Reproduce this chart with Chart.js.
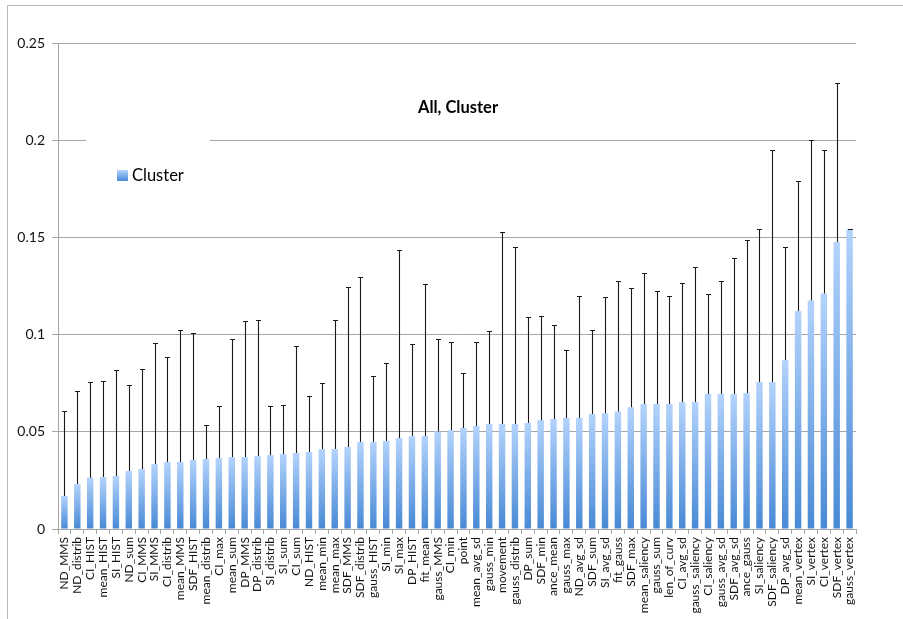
<!DOCTYPE html>
<html>
<head>
<meta charset="utf-8">
<script src="https://cdn.jsdelivr.net/npm/chart.js@4/dist/chart.umd.min.js"></script>
<style>
  html, body { margin: 0; padding: 0; background: #fff; }
  #wrap { position: relative; width: 903px; height: 619px; overflow: hidden; }
  #frame { position: absolute; left: 7px; top: 5px; width: 900px; height: 620px;
           border-left: 1px solid #b8b8b8; border-top: 1px solid #b8b8b8; pointer-events: none; }
  canvas { position: absolute; left: 0; top: 0; }
</style>
</head>
<body>
<div id="wrap">
  <canvas id="c" width="903" height="619"></canvas>
  <div id="frame"></div>
</div>
<script>
const categories = [
  "ND_MMS","ND_distrib","CI_HIST","mean_HIST","SI_HIST","ND_sum","CI_MMS","SI_MMS","CI_distrib","mean_MMS",
  "SDF_HIST","mean_distrib","CI_max","mean_sum","DP_MMS","DP_distrib","SI_distrib","SI_sum","CI_sum","ND_HIST",
  "mean_min","mean_max","SDF_MMS","SDF_distrib","gauss_HIST","SI_min","SI_max","DP_HIST","fit_mean","gauss_MMS",
  "CI_min","point","mean_avg_sd","gauss_min","movement","gauss_distrib","DP_sum","SDF_min","ance_mean","gauss_max",
  "ND_avg_sd","SDF_sum","SI_avg_sd","fit_gauss","SDF_max","mean_saliency","gauss_sum","len_of_curv","CI_avg_sd","gauss_saliency",
  "CI_saliency","gauss_avg_sd","SDF_avg_sd","ance_gauss","SI_saliency","SDF_saliency","DP_avg_sd","mean_vertex","SI_vertex","CI_vertex",
  "SDF_vertex","gauss_vertex"
];
const clusterValues = [
  0.0170,0.0231,0.0264,0.0267,0.0273,0.0298,0.0309,0.0334,0.0345,0.0345,
  0.0355,0.0360,0.0365,0.0370,0.0370,0.0375,0.0380,0.0386,0.0391,0.0396,
  0.0411,0.0411,0.0422,0.0448,0.0448,0.0453,0.0468,0.0478,0.0478,0.0502,
  0.0509,0.0520,0.0530,0.0540,0.0540,0.0540,0.0545,0.0560,0.0566,0.0571,
  0.0571,0.0592,0.0595,0.0605,0.0626,0.0643,0.0643,0.0643,0.0653,0.0653,
  0.0694,0.0694,0.0694,0.0700,0.0756,0.0756,0.0868,0.1121,0.1176,0.1212,
  0.1476,0.1542
];
const clusterErrors = [
  0.0437,0.0477,0.0494,0.0493,0.0547,0.0444,0.0516,0.0624,0.0541,0.0677,
  0.0652,0.0173,0.0266,0.0607,0.0700,0.0700,0.0251,0.0250,0.0550,0.0290,
  0.0340,0.0666,0.0823,0.0848,0.0337,0.0403,0.0966,0.0472,0.0781,0.0474,
  0.0451,0.0284,0.0432,0.0477,0.0986,0.0911,0.0545,0.0536,0.0482,0.0348,
  0.0629,0.0430,0.0598,0.0669,0.0612,0.0674,0.0583,0.0557,0.0611,0.0693,
  0.0515,0.0580,0.0702,0.0787,0.0787,0.1194,0.0583,0.0669,0.0827,0.0738,
  0.0817,0.0003
];
const yTicks = [0, 0.05, 0.1, 0.15, 0.2, 0.25];
const chartTitle = "All, Cluster";
const seriesName = "Cluster";

const FONT = "Lato, 'Open Sans', sans-serif";
const TOP_COLOR = "#b3d3fc";
const BOTTOM_COLOR = "#4889d5";

function barGradient(ctx) {
  const chart = ctx.chart;
  const ys = chart.scales && chart.scales.y;
  if (!ys || !chart.chartArea || ctx.parsed === undefined) return BOTTOM_COLOR;
  const top = ys.getPixelForValue(ctx.parsed.y);
  const base = ys.getPixelForValue(0);
  const g = chart.ctx.createLinearGradient(0, top, 0, base);
  g.addColorStop(0, TOP_COLOR);
  g.addColorStop(1, BOTTOM_COLOR);
  return g;
}

const errorBars = {
  id: 'errorBars',
  afterDatasetsDraw(chart) {
    const ctx = chart.ctx;
    const ys = chart.scales.y;
    const meta = chart.getDatasetMeta(0);
    ctx.save();
    ctx.strokeStyle = '#1a1a1a';
    ctx.lineWidth = 1.1;
    meta.data.forEach((el, i) => {
      const v = clusterValues[i];
      const e = clusterErrors[i];
      const x = Math.round(el.x) + 0.5;
      const y0 = ys.getPixelForValue(v);
      const y1 = Math.round(ys.getPixelForValue(v + e)) + 0.5;
      ctx.beginPath();
      ctx.moveTo(x, y0);
      ctx.lineTo(x, y1);
      ctx.moveTo(x - 2.5, y1);
      ctx.lineTo(x + 2.5, y1);
      ctx.stroke();
    });
    ctx.restore();
  }
};

const overlay = {
  id: 'overlay',
  afterDraw(chart) {
    const ctx = chart.ctx;
    const ca = chart.chartArea;
    ctx.save();
    // title
    ctx.fillStyle = '#000';
    ctx.font = "bold 16.5px " + FONT;
    ctx.textAlign = 'center';
    ctx.textBaseline = 'middle';
    ctx.fillText(chartTitle, (ca.left + ca.right) / 2 + 1, 108);
    // legend box
    ctx.fillStyle = '#fff';
    ctx.fillRect(86, 132, 124, 84);
    const g = ctx.createLinearGradient(0, 170, 0, 181);
    g.addColorStop(0, TOP_COLOR);
    g.addColorStop(1, BOTTOM_COLOR);
    ctx.fillStyle = g;
    ctx.fillRect(117, 170, 11, 11);
    ctx.fillStyle = '#000';
    ctx.font = "16.5px " + FONT;
    ctx.textAlign = 'left';
    ctx.fillText(seriesName, 132, 176);
    ctx.restore();
  }
};

new Chart(document.getElementById('c'), {
  type: 'bar',
  data: {
    labels: categories,
    datasets: [{
      label: seriesName,
      data: clusterValues,
      backgroundColor: barGradient,
      borderWidth: 0,
      barPercentage: 0.5,
      categoryPercentage: 1.0
    }]
  },
  options: {
    responsive: false,
    animation: false,
    devicePixelRatio: 1,
    layout: { padding: { left: 0, top: 43, right: 47, bottom: 0 } },
    plugins: {
      legend: { display: false },
      title: { display: false },
      tooltip: { enabled: false }
    },
    scales: {
      x: {
        afterFit(s) { s.height = 90; },
        grid: { display: true, offset: true, drawOnChartArea: false, drawTicks: true, tickLength: 5, color: '#a6a6a6' },
        border: { display: true, color: '#a6a6a6' },
        ticks: {
          autoSkip: false, minRotation: 90, maxRotation: 90, padding: 3,
          color: '#111', font: { family: FONT, size: 12 }
        }
      },
      y: {
        min: 0, max: 0.25,
        afterFit(s) { s.width = 58; },
        afterBuildTicks(s) { s.ticks = yTicks.map(v => ({ value: v })); },
        grid: { color: '#a6a6a6', tickLength: 6, drawTicks: true },
        border: { display: true, color: '#a6a6a6' },
        ticks: {
          padding: 7, color: '#111', font: { family: FONT, size: 14 },
          callback: v => String(+v.toFixed(2))
        }
      }
    }
  },
  plugins: [errorBars, overlay]
});
</script>
</body>
</html>
